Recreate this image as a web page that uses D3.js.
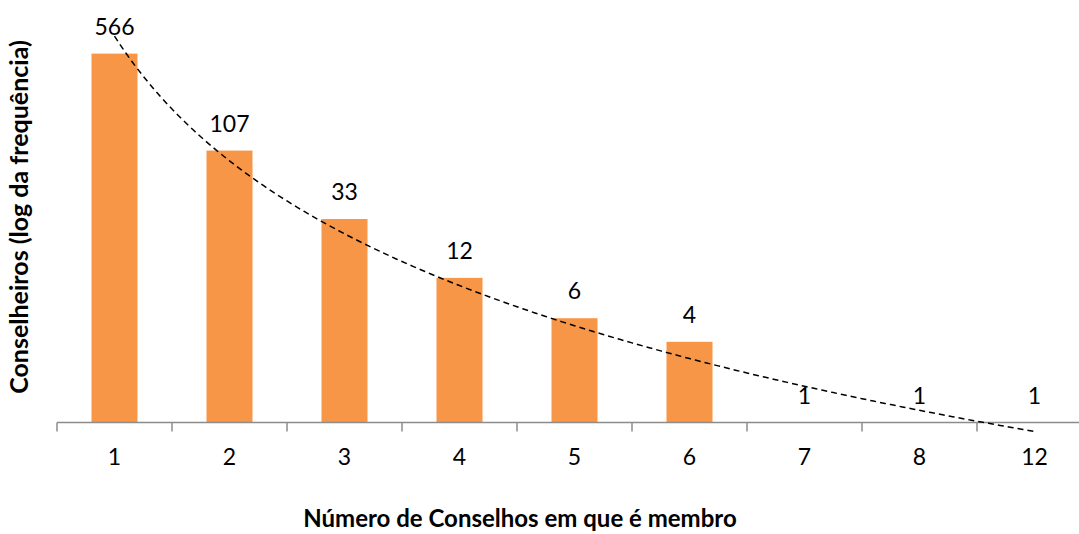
<!DOCTYPE html>
<html>
<head>
<meta charset="utf-8">
<script src="https://cdn.jsdelivr.net/npm/d3@7"></script>
<style>
  body { margin: 0; background: #fff; }
  svg { display: block; font-family: Lato, "Open Sans", sans-serif; }
</style>
</head>
<body>
<svg id="chart" width="1079" height="534"></svg>
<script>
// ── Data ──────────────────────────────────────────────────────────────────
const categories = ["1", "2", "3", "4", "5", "6", "7", "8", "12"];
const counts = [566, 107, 33, 12, 6, 4, 1, 1, 1];
const xTitle = "Número de Conselhos em que é membro";
const yTitle = "Conselheiros (log da frequência)";

const logValues = counts.map((c) => Math.log10(c));

// ── Layout ────────────────────────────────────────────────────────────────
const svg = d3.select("#chart");
const left = 57, bandW = 115;
const baseY = 422.5, topY = 20.5;

const x = d3
  .scaleBand()
  .domain(categories)
  .range([left, left + bandW * categories.length])
  .paddingInner(0.6)
  .paddingOuter(0.3);

const y = d3.scaleLinear().domain([0, 3]).range([baseY, topY]);

// ── Bars ──
svg
  .append("g")
  .selectAll("rect")
  .data(categories)
  .join("rect")
  .attr("x", (d) => x(d))
  .attr("width", x.bandwidth())
  .attr("y", (d, i) => y(logValues[i]))
  .attr("height", (d, i) => y(0) - y(logValues[i]))
  .attr("fill", "#F79646");

// ── Axis ──
const step = x.step();
const axisG = svg.append("g").attr("stroke", "#8c8c8c").attr("stroke-width", 1.5);
axisG
  .append("line")
  .attr("x1", left)
  .attr("x2", left + step * categories.length)
  .attr("y1", baseY)
  .attr("y2", baseY);
axisG
  .selectAll(".tick")
  .data(d3.range(categories.length + 1))
  .join("line")
  .attr("x1", (i) => left + i * step)
  .attr("x2", (i) => left + i * step)
  .attr("y1", baseY)
  .attr("y2", baseY + 9);

svg
  .append("g")
  .selectAll("text")
  .data(categories)
  .join("text")
  .attr("x", (d) => x(d) + x.bandwidth() / 2)
  .attr("y", 465)
  .attr("text-anchor", "middle")
  .attr("font-size", 23)
  .attr("fill", "#000")
  .text((d) => d);

// ── Value labels ──
svg
  .append("g")
  .selectAll("text")
  .data(categories)
  .join("text")
  .attr("x", (d) => x(d) + x.bandwidth() / 2)
  .attr("y", (d, i) => y(logValues[i]) - 19)
  .attr("text-anchor", "middle")
  .attr("font-size", 23)
  .attr("fill", "#000")
  .text((d, i) => counts[i]);

// ── Logarithmic trendline (least squares on ln(index)) ──
const lnX = categories.map((d, i) => Math.log(i + 1));
const mx = d3.mean(lnX), my = d3.mean(logValues);
const sxy = d3.sum(lnX, (v, i) => (v - mx) * (logValues[i] - my));
const sxx = d3.sum(lnX, (v) => (v - mx) ** 2);
const slope = sxy / sxx, intercept = my - slope * mx;

const pos = d3.scaleLinear().domain([1, categories.length]).range([
  x(categories[0]) + x.bandwidth() / 2,
  x(categories[categories.length - 1]) + x.bandwidth() / 2,
]);
const samples = d3.range(1, categories.length + 0.001, 0.05);
svg
  .append("path")
  .datum(samples)
  .attr("fill", "none")
  .attr("stroke", "#000")
  .attr("stroke-width", 1.5)
  .attr("stroke-dasharray", "6,4")
  .attr(
    "d",
    d3
      .line()
      .x((t) => pos(t))
      .y((t) => y(intercept + slope * Math.log(t))),
  );

// ── Titles ──
svg
  .append("text")
  .attr("x", 520)
  .attr("y", 527)
  .attr("text-anchor", "middle")
  .attr("font-size", 24)
  .attr("font-weight", "bold")
  .text(xTitle);

svg
  .append("text")
  .attr("transform", "translate(28,217) rotate(-90)")
  .attr("text-anchor", "middle")
  .attr("font-size", 25)
  .attr("font-weight", "bold")
  .text(yTitle);
</script>
</body>
</html>
